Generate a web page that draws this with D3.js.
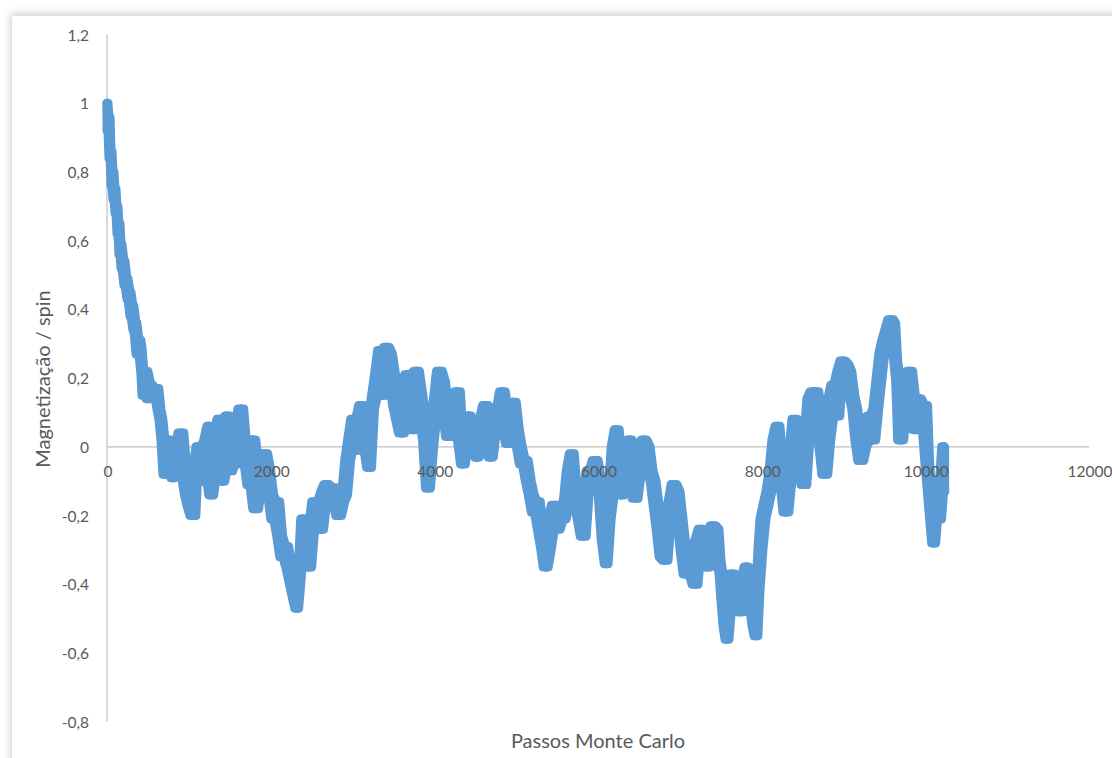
<!DOCTYPE html>
<html>
<head>
<meta charset="utf-8">
<script src="https://cdn.jsdelivr.net/npm/d3@7"></script>
<style>
  html, body { margin: 0; padding: 0; background: #ffffff; }
  svg { display: block; }
  text { font-family: Lato, "Open Sans", sans-serif; fill: #595959; }
</style>
</head>
<body>
<svg id="chart" width="1112" height="758"></svg>
<script>
// Monte Carlo steps (x) for the magnetization trace
const steps = [
  0,12,24,37,49,61,73,85,98,110,122,134,146,159,171,183,
  207,220,244,256,281,293,317,329,354,366,390,415,427,451,476,500,
  537,561,586,610,634,659,683,708,732,756,781,805,830,866,
  903,939,976,1013,1049,1086,1110,1147,1183,1220,1244,1269,1305,1342,1379,
  1415,1440,1464,1501,1537,1562,1598,1635,1671,1708,1745,1781,1818,1854,1891,1928,
  1964,2001,2037,2074,2111,2147,2184,2220,2257,2294,2318,2342,2367,2391,2428,
  2464,2501,2537,2574,2611,2647,2684,2721,2757,2794,2830,2867,2904,2940,2977,
  3001,3038,3074,3099,3135,3172,3209,3233,3269,3306,3343,3379,3416,3453,3489,
  3526,3562,3599,3636,3672,3709,3745,3782,3818,3855,3892,3916,3953,3989,4026,
  4063,4099,4136,4172,4209,4246,4282,4319,4343,4380,4416,4453,4490,4514,4551,
  4587,4624,4660,4685,4721,4758,4795,4831,4868,4892,4929,4965,5002,5039,5075,
  5112,5148,5185,5222,5258,5295,5331,5368,5392,5429,5466,5502,5539,5575,
  5612,5649,5673,5710,5746,5783,5819,5856,5893,5929,5966,6002,6039,6076,6100,
  6124,6161,6198,6222,6259,6283,6320,6356,6381,6417,6454,6490,6527,6564,6600,
  6637,6673,6710,6747,6783,6820,6856,6893,6930,6966,7003,7039,7076,7113,7149,
  7186,7222,7259,7296,7332,7369,7405,7442,7479,7503,7527,7552,7576,7601,
  7637,7674,7710,7747,7784,7820,7845,7881,7906,7930,7954,7979,8015,8052,
  8089,8125,8162,8198,8223,8259,8296,8333,8369,8406,8442,8479,8516,8552,
  8589,8625,8662,8699,8735,8772,8808,8845,8882,8918,8955,8991,9028,9065,9101,
  9138,9174,9211,9248,9284,9321,9357,9394,9431,9467,9504,9540,9577,9614,9638,
  9662,9699,9736,9772,9809,9845,9882,9919,9955,9992,10028,10052,10077,10101,10126,10150,10174,10199,10223,10236
];

// Magnetization per spin at each step
const magnetization = [
  1.00,0.92,0.96,0.84,0.86,0.76,0.80,0.72,0.75,0.68,0.70,0.62,0.65,0.56,0.59,0.52,
  0.54,0.47,0.49,0.43,0.45,0.38,0.41,0.34,0.36,0.27,0.31,0.29,0.21,0.15,0.22,0.14,
  0.18,0.15,0.16,0.17,0.11,0.08,0.02,-0.08,-0.02,0.02,-0.05,-0.09,-0.04,-0.07,
  0.04,-0.07,-0.13,-0.17,-0.20,-0.07,0.00,-0.07,-0.10,0.02,0.06,-0.14,-0.07,0.02,0.08,
  -0.10,0.05,0.09,-0.07,0.00,-0.05,0.05,0.11,0.00,-0.04,-0.11,0.02,-0.18,-0.05,-0.10,-0.02,
  -0.07,-0.14,-0.21,-0.16,-0.26,-0.32,-0.29,-0.35,-0.39,-0.43,-0.47,-0.40,-0.33,-0.21,-0.32,
  -0.35,-0.24,-0.16,-0.21,-0.24,-0.13,-0.11,-0.16,-0.14,-0.12,-0.20,-0.16,-0.14,-0.04,0.02,
  0.08,-0.01,0.05,0.12,0.02,0.00,-0.06,0.11,0.15,0.21,0.28,0.15,0.29,0.27,0.21,
  0.12,0.08,0.04,0.15,0.21,0.14,0.05,0.22,0.16,0.09,0.02,-0.12,-0.01,0.08,0.14,
  0.22,0.19,0.11,0.03,0.09,0.12,0.16,0.02,-0.05,0.06,0.09,0.05,-0.02,-0.03,0.06,
  0.08,0.12,0.02,-0.03,0.05,0.11,0.08,0.16,0.06,0.01,0.12,0.13,0.05,0.00,-0.05,
  -0.04,-0.10,-0.14,-0.19,-0.16,-0.24,-0.29,-0.35,-0.30,-0.21,-0.17,-0.24,-0.17,-0.21,
  -0.16,-0.07,-0.02,-0.13,-0.17,-0.21,-0.26,-0.13,-0.07,-0.10,-0.04,-0.09,-0.14,-0.27,-0.34,
  -0.21,-0.14,0.00,0.05,-0.02,-0.14,-0.07,-0.01,0.02,-0.07,-0.15,-0.08,-0.02,0.02,0.00,
  -0.07,-0.10,-0.17,-0.24,-0.32,-0.33,-0.21,-0.16,-0.11,-0.13,-0.21,-0.30,-0.37,-0.29,-0.33,
  -0.40,-0.27,-0.24,-0.30,-0.35,-0.27,-0.23,-0.24,-0.33,-0.37,-0.45,-0.52,-0.56,-0.45,
  -0.37,-0.42,-0.48,-0.48,-0.39,-0.35,-0.36,-0.45,-0.52,-0.55,-0.42,-0.30,-0.21,-0.17,
  -0.13,-0.07,0.02,0.06,-0.04,-0.10,-0.19,-0.10,-0.02,0.08,0.06,-0.01,-0.11,0.02,
  0.14,0.16,0.16,0.09,0.00,-0.08,0.02,0.14,0.18,0.09,0.22,0.25,0.24,0.22,0.15,
  0.11,0.02,-0.04,0.00,0.08,0.09,0.02,0.11,0.19,0.27,0.31,0.34,0.37,0.36,0.25,
  0.19,0.02,0.12,0.18,0.22,0.11,0.05,0.14,0.08,0.12,-0.04,-0.14,-0.21,-0.28,-0.19,-0.14,-0.21,-0.10,0.00,-0.13
];

const xTicks = [0, 2000, 4000, 6000, 8000, 10000, 12000];
const yTicks = [-0.8, -0.6, -0.4, -0.2, 0, 0.2, 0.4, 0.6, 0.8, 1, 1.2];
const xTitle = "Passos Monte Carlo";
const yTitle = "Magnetização / spin";

const svg = d3.select("#chart");
const seriesColor = "#5b9bd5";

// Chart frame with a soft shadow around it
const defs = svg.append("defs");
defs.append("filter").attr("id", "frameShadow")
  .attr("x", "-5%").attr("y", "-5%").attr("width", "110%").attr("height", "110%")
  .append("feGaussianBlur").attr("stdDeviation", 4.5);
svg.append("rect").attr("x", 11).attr("y", 14).attr("width", 1200).attr("height", 800)
  .attr("fill", "#9e9e9e").attr("opacity", 0.55).attr("filter", "url(#frameShadow)");
svg.append("rect").attr("x", 12).attr("y", 16).attr("width", 1200).attr("height", 800)
  .attr("fill", "#ffffff");

const x = d3.scaleLinear().domain([0, 12000]).range([107, 1089]);
const y = d3.scaleLinear().domain([-0.8, 1.2]).range([721.7, 34.5]);

const fmt = v => String(+v.toFixed(1)).replace(".", ",");

// Axis lines: vertical at step 0, horizontal at magnetization 0
svg.append("line")
  .attr("x1", x(0)).attr("x2", x(0))
  .attr("y1", y(1.2)).attr("y2", y(-0.8))
  .attr("stroke", "#bfbfbf").attr("stroke-width", 1.2);
svg.append("line")
  .attr("x1", x(0)).attr("x2", x(12000))
  .attr("y1", y(0)).attr("y2", y(0))
  .attr("stroke", "#bfbfbf").attr("stroke-width", 1.2);

// Series points; the markers overlap so densely that they read as a band
const pts = steps.map((s, i) => ({ s, m: magnetization[i] })).filter(d => d.m !== undefined);

// Local spread of neighbouring samples fills the band between the markers
const band = pts.map((d, i) => {
  const win = pts.slice(Math.max(0, i - 1), Math.min(pts.length, i + 2)).map(p => p.m);
  return { s: d.s, lo: d3.min(win), hi: d3.max(win) };
});
svg.append("path")
  .datum(band)
  .attr("d", d3.area().x(d => x(d.s)).y0(d => y(d.lo)).y1(d => y(d.hi)))
  .attr("fill", seriesColor)
  .attr("stroke", seriesColor)
  .attr("stroke-width", 9)
  .attr("stroke-linejoin", "round");

svg.append("path")
  .datum(pts)
  .attr("d", d3.line().x(d => x(d.s)).y(d => y(d.m)))
  .attr("fill", "none")
  .attr("stroke", seriesColor)
  .attr("stroke-width", 9)
  .attr("stroke-linejoin", "round")
  .attr("stroke-linecap", "round");
svg.append("g").selectAll("circle").data(pts).join("circle")
  .attr("cx", d => x(d.s)).attr("cy", d => y(d.m)).attr("r", 4.5)
  .attr("fill", seriesColor);

// Tick labels
svg.append("g").selectAll("text").data(yTicks).join("text")
  .attr("x", 89).attr("y", d => y(d))
  .attr("text-anchor", "end").attr("dominant-baseline", "central")
  .attr("font-size", 15.5)
  .text(fmt);
svg.append("g").selectAll("text").data(xTicks).join("text")
  .attr("x", d => x(d) + 1).attr("y", y(0) + 24)
  .attr("text-anchor", "middle").attr("dominant-baseline", "central")
  .attr("font-size", 15.5)
  .text(d => String(d));

// Axis titles
svg.append("text")
  .attr("x", 598).attr("y", 740)
  .attr("text-anchor", "middle").attr("dominant-baseline", "central")
  .attr("font-size", 20)
  .text(xTitle);
svg.append("text")
  .attr("transform", "translate(42,379) rotate(-90)")
  .attr("text-anchor", "middle").attr("dominant-baseline", "central")
  .attr("font-size", 20)
  .text(yTitle);
</script>
</body>
</html>
